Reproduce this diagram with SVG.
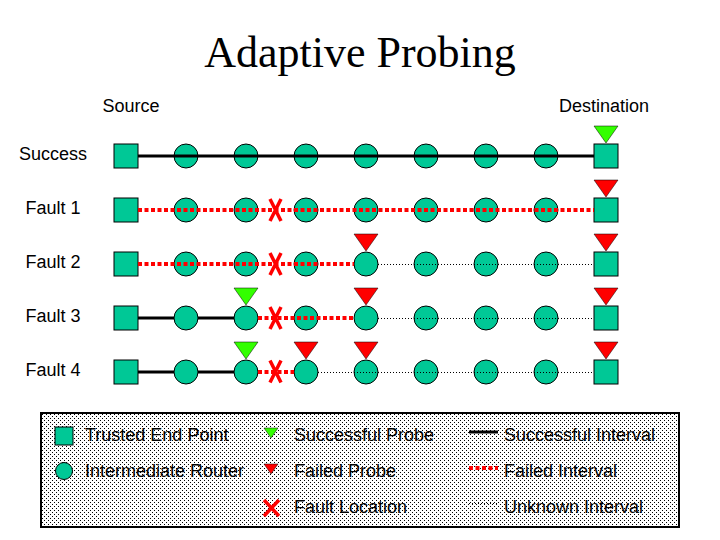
<svg xmlns="http://www.w3.org/2000/svg" width="720" height="540" viewBox="0 0 720 540">
<style>
.lbl{font-family:"Liberation Sans",Arial,sans-serif;font-size:18px;fill:#000}
.title{font-family:"Liberation Serif","Times New Roman",serif;font-size:44px;fill:#000}
.ep{fill:#00C896;stroke:#000;stroke-width:1}
.rt{fill:#00C896;stroke:#000;stroke-width:1}
.ok{fill:#33FF00;stroke:#000;stroke-width:0.5}
.bad{fill:#FF0000;stroke:#000;stroke-width:0.5}
.x{stroke:#FF0000;stroke-width:3.5;fill:none}
.solid{stroke:#000;stroke-width:3;fill:none}
.fail{stroke:#FF0000;stroke-width:4;stroke-dasharray:4 2.5;fill:none}
.unk{stroke:#000;stroke-width:1;stroke-dasharray:1 2;fill:none;shape-rendering:crispEdges}
</style>
<defs>
<pattern id="stip" width="4" height="4" patternUnits="userSpaceOnUse">
<rect width="4" height="4" fill="#fff"/>
<rect x="0" y="0" width="1" height="1" fill="#000"/>
<rect x="2" y="2" width="1" height="1" fill="#000"/>
</pattern>
<rect id="sq" x="-12" y="-12" width="24" height="24" class="ep"/>
<circle id="ci" r="12" class="rt"/>
<polygon id="tri" points="-12,-30 12,-30 0,-13"/>
<path id="xm" d="M-5.5,-11 L5.5,11 M5.5,-11 L-5.5,11" class="x"/>
</defs>
<rect width="720" height="540" fill="#fff"/>
<text class="title" x="360" y="67" text-anchor="middle">Adaptive Probing</text>
<text class="lbl" x="131" y="112" text-anchor="middle">Source</text>
<text class="lbl" x="604" y="112" text-anchor="middle">Destination</text>
<g id="row-labels">
<text class="lbl" x="53" y="160" text-anchor="middle">Success</text>
<text class="lbl" x="53" y="214" text-anchor="middle">Fault 1</text>
<text class="lbl" x="53" y="268" text-anchor="middle">Fault 2</text>
<text class="lbl" x="53" y="322" text-anchor="middle">Fault 3</text>
<text class="lbl" x="53" y="376" text-anchor="middle">Fault 4</text>
</g>
<g id="nodes">
<g id="row-success">
<use href="#sq" x="126" y="156"/><use href="#ci" x="186" y="156"/><use href="#ci" x="246" y="156"/><use href="#ci" x="306" y="156"/><use href="#ci" x="366" y="156"/><use href="#ci" x="426" y="156"/><use href="#ci" x="486" y="156"/><use href="#ci" x="546" y="156"/><use href="#sq" x="606" y="156"/>
</g>
<g id="row-fault1">
<use href="#sq" x="126" y="210"/><use href="#ci" x="186" y="210"/><use href="#ci" x="246" y="210"/><use href="#ci" x="306" y="210"/><use href="#ci" x="366" y="210"/><use href="#ci" x="426" y="210"/><use href="#ci" x="486" y="210"/><use href="#ci" x="546" y="210"/><use href="#sq" x="606" y="210"/>
</g>
<g id="row-fault2">
<use href="#sq" x="126" y="264"/><use href="#ci" x="186" y="264"/><use href="#ci" x="246" y="264"/><use href="#ci" x="306" y="264"/><use href="#ci" x="366" y="264"/><use href="#ci" x="426" y="264"/><use href="#ci" x="486" y="264"/><use href="#ci" x="546" y="264"/><use href="#sq" x="606" y="264"/>
</g>
<g id="row-fault3">
<use href="#sq" x="126" y="318"/><use href="#ci" x="186" y="318"/><use href="#ci" x="246" y="318"/><use href="#ci" x="306" y="318"/><use href="#ci" x="366" y="318"/><use href="#ci" x="426" y="318"/><use href="#ci" x="486" y="318"/><use href="#ci" x="546" y="318"/><use href="#sq" x="606" y="318"/>
</g>
<g id="row-fault4">
<use href="#sq" x="126" y="372"/><use href="#ci" x="186" y="372"/><use href="#ci" x="246" y="372"/><use href="#ci" x="306" y="372"/><use href="#ci" x="366" y="372"/><use href="#ci" x="426" y="372"/><use href="#ci" x="486" y="372"/><use href="#ci" x="546" y="372"/><use href="#sq" x="606" y="372"/>
</g>
</g>
<g id="connectors">
<line class="solid" x1="138" y1="156" x2="594" y2="156"/>
<line class="fail" x1="138" y1="210" x2="594" y2="210"/>
<line class="fail" x1="138" y1="264" x2="354" y2="264"/>
<line class="unk" x1="378" y1="264.5" x2="594" y2="264.5"/>
<line class="solid" x1="138" y1="318" x2="174" y2="318"/>
<line class="solid" x1="198" y1="318" x2="234" y2="318"/>
<line class="fail" x1="258" y1="318" x2="354" y2="318"/>
<line class="unk" x1="378" y1="318.5" x2="594" y2="318.5"/>
<line class="solid" x1="138" y1="372" x2="174" y2="372"/>
<line class="solid" x1="198" y1="372" x2="234" y2="372"/>
<line class="fail" x1="258" y1="372" x2="294" y2="372"/>
<line class="unk" x1="318" y1="372.5" x2="594" y2="372.5"/>
</g>
<g id="probes">
<use href="#tri" class="ok" x="606" y="156"/>
<use href="#tri" class="bad" x="606" y="210"/>
<use href="#tri" class="bad" x="366" y="264"/><use href="#tri" class="bad" x="606" y="264"/>
<use href="#tri" class="ok" x="246" y="318"/><use href="#tri" class="bad" x="366" y="318"/><use href="#tri" class="bad" x="606" y="318"/>
<use href="#tri" class="ok" x="246" y="372"/><use href="#tri" class="bad" x="306" y="372"/><use href="#tri" class="bad" x="366" y="372"/><use href="#tri" class="bad" x="606" y="372"/>
</g>
<g id="faults">
<use href="#xm" x="275.5" y="210"/>
<use href="#xm" x="275.5" y="264"/>
<use href="#xm" x="275.5" y="318"/>
<use href="#xm" x="275.5" y="371.5"/>
</g>
<g id="legend">
<rect x="41" y="413" width="638" height="114" fill="url(#stip)" stroke="#000" stroke-width="2"/>
<rect x="55" y="427" width="18" height="18" class="ep"/>
<text class="lbl" x="85" y="441">Trusted End Point</text>
<circle cx="64" cy="471" r="8.5" class="rt"/>
<text class="lbl" x="85" y="477">Intermediate Router</text>
<polygon points="264,428 278,428 271,438" class="ok"/>
<text class="lbl" x="294" y="441">Successful Probe</text>
<polygon points="264,464 278,464 271,474" class="bad"/>
<text class="lbl" x="294" y="477">Failed Probe</text>
<path d="M264,500 L279,516 M279,500 L264,516" class="x" stroke-width="3"/>
<text class="lbl" x="294" y="513">Fault Location</text>
<line class="solid" x1="469" y1="432" x2="498" y2="432"/>
<text class="lbl" x="504" y="441">Successful Interval</text>
<line class="fail" x1="469" y1="468" x2="498" y2="468" stroke-width="3"/>
<text class="lbl" x="504" y="477">Failed Interval</text>
<line class="unk" x1="469" y1="503.5" x2="498" y2="503.5"/>
<text class="lbl" x="504" y="513">Unknown Interval</text>
</g>
</svg>
